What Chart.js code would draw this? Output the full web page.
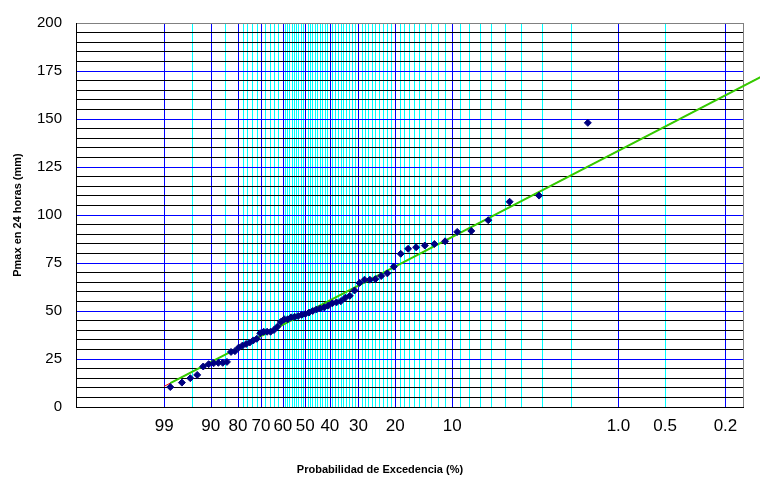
<!DOCTYPE html>
<html>
<head>
<meta charset="utf-8">
<script src="https://cdn.jsdelivr.net/npm/chart.js@4/dist/chart.umd.min.js"></script>
<style>
  html, body { margin: 0; padding: 0; background: #fff; }
  #caja { width: 760px; height: 485px; }
</style>
</head>
<body>
<div id="caja"><canvas id="grafico"></canvas></div>
<script>
// Pmax en 24 horas (mm), ordenada de menor a mayor
var pmax = [10.4, 12.7, 15.0, 16.7, 21.1, 22.3, 22.8, 23.0, 23.0, 23.5,
            28.7, 29.1, 31.0, 32.0, 32.8, 33.6, 34.7, 35.5, 38.4, 39.2,
            39.2, 39.2, 40.1, 41.8, 44.3, 45.7, 45.7, 46.7, 47.0, 47.4,
            48.0, 48.5, 49.2, 50.0, 50.8, 51.3, 51.9, 52.8, 54.0, 54.5,
            55.1, 56.9, 57.9, 60.7, 64.6, 66.3, 66.3, 66.6, 68.2, 69.6,
            73.1, 79.8, 82.4, 83.2, 84.1, 84.9, 86.3, 91.2, 91.7, 97.3,
            106.9, 110.1, 148.0];

// ajuste Pearson III
var media = 53.2;
var desvEst = 26.5;
var asimetria = 1.0;

// probabilidades de excedencia (%)
var probEtiq = [99, 90, 80, 70, 60, 50, 40, 30, 20, 10, 1, 0.5, 0.2];
var textoEtiq = ['99', '90', '80', '70', '60', '50', '40', '30', '20', '10', '1.0', '0.5', '0.2'];
var probAzul = [99, 90, 80, 70, 60, 50, 40, 30, 20, 10, 1, 0.2];
var probCeleste = [95, 85, 78, 76, 74, 72, 68, 66, 64, 62,
                   59, 58, 57, 56, 55, 54, 53, 52, 51,
                   49, 48, 47, 46, 45, 44, 43, 42, 41,
                   39, 38, 37, 36, 35, 34, 33, 32, 31,
                   29, 28, 27, 26, 25, 24, 23, 22, 21,
                   19, 18, 17, 16, 15, 14, 13, 12, 11,
                   9, 8, 7, 6, 5, 4, 3, 2, 0.5];
var probRecta = [99, 0.1];

// inversa de la normal (Acklam)
function zNormal(p) {
  var a = [-3.969683028665376e+01, 2.209460984245205e+02, -2.759285104469687e+02, 1.383577518672690e+02, -3.066479806614716e+01, 2.506628277459239e+00];
  var b = [-5.447609879822406e+01, 1.615858368580409e+02, -1.556989798598866e+02, 6.680131188771972e+01, -1.328068155288572e+01];
  var c = [-7.784894002430293e-03, -3.223964580411365e-01, -2.400758277161838e+00, -2.549732539343734e+00, 4.374664141464968e+00, 2.938163982698783e+00];
  var d = [7.784695709041462e-03, 3.224671290700398e-01, 2.445134137142996e+00, 3.754408661907416e+00];
  var q, r;
  if (p < 0.02425) {
    q = Math.sqrt(-2 * Math.log(p));
    return (((((c[0]*q+c[1])*q+c[2])*q+c[3])*q+c[4])*q+c[5]) / ((((d[0]*q+d[1])*q+d[2])*q+d[3])*q+1);
  }
  if (p > 1 - 0.02425) {
    q = Math.sqrt(-2 * Math.log(1 - p));
    return -(((((c[0]*q+c[1])*q+c[2])*q+c[3])*q+c[4])*q+c[5]) / ((((d[0]*q+d[1])*q+d[2])*q+d[3])*q+1);
  }
  q = p - 0.5; r = q * q;
  return (((((a[0]*r+a[1])*r+a[2])*r+a[3])*r+a[4])*r+a[5])*q / (((((b[0]*r+b[1])*r+b[2])*r+b[3])*r+b[4])*r+1);
}

// factor de frecuencia K (Wilson-Hilferty)
function factorK(pExc) {
  var z = zNormal(1 - pExc / 100);
  var g = asimetria;
  return 2 / g * (Math.pow(1 + g * z / 6 - g * g / 36, 3) - 1);
}

var n = pmax.length;
var puntos = pmax.map(function(v, i) {
  return { x: factorK(100 * (1 - (i + 1) / (n + 1))), y: v };
});
var recta = probRecta.map(function(p) {
  var k = factorK(p);
  return { x: k, y: media + desvEst * k };
});
var rectaVerde = [{ x: puntos[0].x, y: media + desvEst * puntos[0].x }, recta[1]];

// lineas verticales del papel: celestes primero, azules encima
var lineasX = probCeleste.map(function(p) { return { value: factorK(p), color: '#00ffff' }; })
  .concat(probAzul.map(function(p) { return { value: factorK(p), color: '#0000ff' }; }));

var papel = {
  id: 'papel',
  beforeDraw: function(chart) {
    var a = chart.chartArea, sx = chart.scales.x, c = chart.ctx;
    c.save();
    c.lineWidth = 1;
    lineasX.forEach(function(l) {
      var px = Math.round(sx.getPixelForValue(l.value)) + 0.5;
      c.strokeStyle = l.color;
      c.beginPath();
      c.moveTo(px, a.top);
      c.lineTo(px, a.bottom);
      c.stroke();
    });
    c.strokeStyle = '#808080';
    c.beginPath();
    c.moveTo(Math.round(a.right) + 0.5, a.top);
    c.lineTo(Math.round(a.right) + 0.5, a.bottom);
    c.stroke();
    c.restore();
  },
  afterDraw: function(chart) {
    var c = chart.ctx;
    c.save();
    c.font = 'bold 11px "Liberation Sans", Arial, sans-serif';
    c.fillStyle = '#000';
    c.textAlign = 'center';
    c.textBaseline = 'middle';
    c.fillText('Probabilidad de Excedencia (%)', chart.width / 2, 470);
    c.restore();
  }
};

var ctx = document.getElementById('grafico').getContext('2d');
var grafico = new Chart(ctx, {
  type: 'scatter',
  data: {
    datasets: [
      {
        label: 'Pmax',
        data: puntos,
        pointStyle: 'rectRot',
        pointRadius: 3.5,
        backgroundColor: '#000080',
        borderColor: '#000080',
        borderWidth: 1
      },
      {
        label: 'Ajuste 2',
        data: rectaVerde,
        showLine: true,
        pointRadius: 0,
        borderColor: '#33cc00',
        borderWidth: 2,
        clip: false
      },
      {
        label: 'Ajuste',
        data: recta,
        showLine: true,
        pointRadius: 0,
        borderColor: '#ff0000',
        borderWidth: 1,
        clip: false
      }
    ]
  },
  options: {
    responsive: true,
    maintainAspectRatio: false,
    animation: false,
    layout: { padding: { top: 13, right: 17, left: 0, bottom: 0 } },
    plugins: { legend: { display: false }, tooltip: { enabled: false } },
    scales: {
      x: {
        type: 'linear',
        min: -2.5,
        max: 4.3,
        afterFit: function(s) { s.height = 78; },
        afterBuildTicks: function(s) {
          s.ticks = probEtiq.map(function(p) { return { value: factorK(p) }; });
        },
        grid: { display: false, drawTicks: false },
        border: { color: '#000', width: 1 },
        ticks: {
          autoSkip: false,
          maxRotation: 0,
          padding: 9,
          color: '#000',
          font: { family: '"Liberation Sans", Arial, sans-serif', size: 17 },
          callback: function(v, i) { return textoEtiq[i]; }
        }
      },
      y: {
        min: 0,
        max: 200,
        afterFit: function(s) { s.width = 76; },
        grid: {
          drawTicks: false,
          lineWidth: 1,
          color: function(c) {
            var v = c.tick ? c.tick.value : 0;
            if (v === 200) return '#808080';
            return v % 25 === 0 ? '#0000ff' : '#000';
          }
        },
        border: { color: '#000', width: 1 },
        title: {
          display: true,
          text: 'Pmax en 24 horas (mm)',
          color: '#000',
          padding: { top: 11, bottom: 0 },
          font: { family: '"Liberation Sans", Arial, sans-serif', size: 11, weight: 'bold' }
        },
        ticks: {
          stepSize: 5,
          autoSkip: false,
          padding: 14,
          color: '#000',
          font: { family: '"Liberation Sans", Arial, sans-serif', size: 15 },
          callback: function(v) { return v % 25 === 0 ? v : ''; }
        }
      }
    }
  },
  plugins: [papel]
});
</script>
</body>
</html>
